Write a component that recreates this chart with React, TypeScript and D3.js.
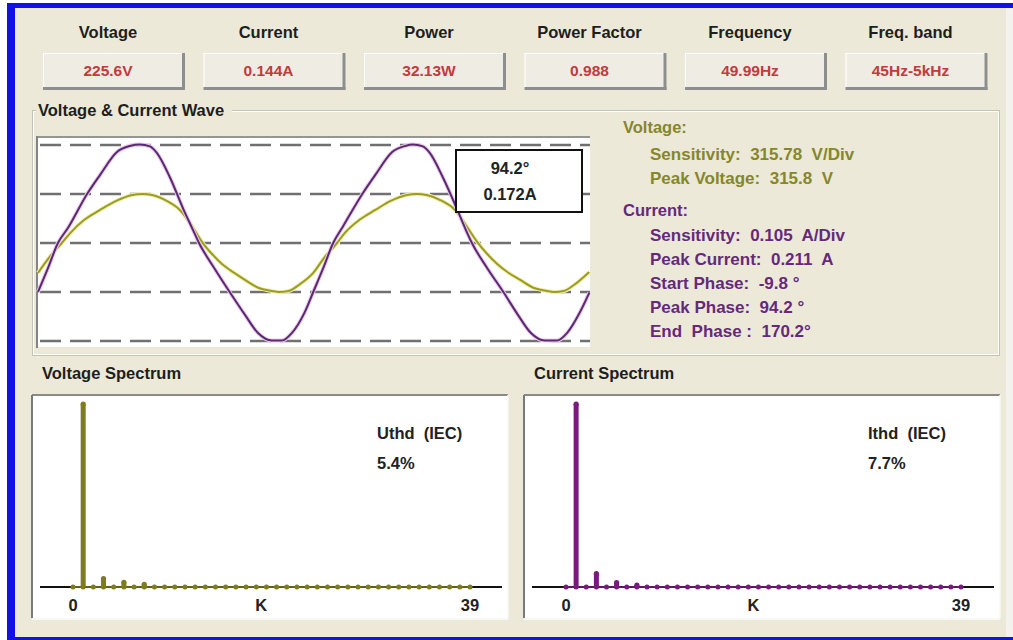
import React from 'react';
import * as d3 from 'd3';

// ---------- data ----------
const headerLabels = ['Voltage', 'Current', 'Power', 'Power Factor', 'Frequency', 'Freq. band'];
const headerValues = ['225.6V', '0.144A', '32.13W', '0.988', '49.99Hz', '45Hz-5kHz'];

// current waveform: [phase deg, amps]
const currentWave: [number, number][] = [
  [0, -0.105], [13, -0.054], [26, 0], [39, 0.032], [64, 0.105], [81, 0.146], [103, 0.195],
  [120, 0.208], [133, 0.211], [146, 0.207], [155, 0.193], [172, 0.141], [190, 0.071],
  [201, 0.032], [210, 0], [230, -0.054], [250, -0.105], [270, -0.154], [287, -0.193],
  [305, -0.209], [318, -0.209], [331, -0.193], [348, -0.148], [359, -0.105], [372, -0.054],
  [385, 0], [398, 0.036], [423, 0.105], [440, 0.146], [462, 0.195], [479, 0.208],
  [489, 0.211], [502, 0.207], [511, 0.193], [528, 0.141], [547, 0.071], [557, 0.032],
  [566, 0], [586, -0.054], [607, -0.105], [626, -0.154], [643, -0.193], [661, -0.209],
  [677, -0.209], [690, -0.193], [707, -0.148], [719, -0.107],
];

// voltage waveform: [phase deg, volts]
const voltageWave: [number, number][] = [
  [0, -193], [14, -97], [31, 0], [42, 64], [60, 148], [81, 213], [102, 271], [123, 309],
  [136, 316], [149, 309], [168, 271], [185, 213], [200, 116], [214, 6], [227, -71],
  [240, -135], [256, -193], [270, -238], [288, -290], [305, -309], [314, -316], [327, -309],
  [340, -271], [359, -193], [373, -97], [390, 0], [400, 64], [419, 148], [440, 213],
  [460, 271], [481, 309], [494, 316], [507, 309], [527, 271], [544, 213], [558, 116],
  [573, 6], [586, -71], [599, -135], [614, -193], [629, -238], [647, -290], [664, -309],
  [673, -316], [686, -309], [699, -271], [719, -187],
];

const voltSensitivity = 315.78; // V/Div
const currSensitivity = 0.105; // A/Div
const gridDivisions = [-2, -1, 0, 1, 2];

const markerLines = ['94.2°', '0.172A'];

const voltageInfoTitle = 'Voltage:';
const voltageInfo = ['Sensitivity:  315.78  V/Div', 'Peak Voltage:  315.8  V'];
const currentInfoTitle = 'Current:';
const currentInfo = [
  'Sensitivity:  0.105  A/Div',
  'Peak Current:  0.211  A',
  'Start Phase:  -9.8 °',
  'Peak Phase:  94.2 °',
  'End  Phase :  170.2°',
];

// harmonic spectra, % of fundamental, orders 0..39
const voltageSpectrum = [
  0, 100, 0, 4.6, 0, 2.6, 0, 1.4, 0, 0,
  0, 0, 0, 0, 0, 0, 0, 0, 0, 0,
  0, 0, 0, 0, 0, 0, 0, 0, 0, 0,
  0, 0, 0, 0, 0, 0, 0, 0, 0, 0,
];
const currentSpectrum = [
  0, 100, 0, 7.3, 0, 2.4, 0, 1.1, 0, 0,
  0, 0, 0, 0, 0, 0, 0, 0, 0, 0,
  0, 0, 0, 0, 0, 0, 0, 0, 0, 0,
  0, 0, 0, 0, 0, 0, 0, 0, 0, 0,
];
const spectrumTicks: [number, string][] = [[0, '0'], [18.5, 'K'], [39, '39']];
const spectrumTitles = ['Voltage Spectrum', 'Current Spectrum'];
const thdLabels = ['Uthd  (IEC)', 'Ithd  (IEC)'];
const thdValues = ['5.4%', '7.7%'];

// ---------- style ----------
const FONT = '"Liberation Sans", Arial, sans-serif';
const FS = 16.5;
const BG = '#ECE9D8';
const RED = '#C23A3C';
const OLIVE = '#86862A';
const PURPLE = '#66297A';
const WAVE_V = '#9C9C24';
const WAVE_I = '#5A2A6E';
const BAR_V = '#7D7D1E';
const BAR_I = '#7A1A7E';

function Spectrum({ x0, x1, title, values, color, thdLabel, thdValue, panelX, panelW }: any) {
  const xs = d3.scaleLinear().domain([0, 39]).range([x0, x1]);
  const ys = d3.scaleLinear().domain([0, 100]).range([587, 404]);
  return (
    <g>
      <text x={panelX + 10} y={373} dominantBaseline="central" fontFamily={FONT} fontWeight="bold" fontSize={FS} fill="#1E1E1E">{title}</text>
      <rect x={panelX} y={395} width={panelW} height={223} fill="#FFFFFF" />
      <line x1={panelX} y1={395} x2={panelX + panelW} y2={395} stroke="#8A8A8A" strokeWidth={2} />
      <line x1={panelX} y1={395} x2={panelX} y2={618} stroke="#7A7A7A" strokeWidth={2} />
      <line x1={panelX} y1={619} x2={panelX + panelW} y2={619} stroke="#F8F8F4" strokeWidth={2} />
      <line x1={panelX + panelW} y1={395} x2={panelX + panelW} y2={619} stroke="#F8F8F4" strokeWidth={1.5} />
      <line x1={panelX + 8} y1={ys(0)} x2={panelX + panelW - 6} y2={ys(0)} stroke="#111" strokeWidth={2} />
      <line x1={xs(0)} y1={ys(0)} x2={xs(39)} y2={ys(0)} stroke={color} strokeWidth={1.5} />
      {values.map((v: number, i: number) => (
        <g key={i}>
          {v > 0 && (
            <rect x={xs(i) - 2.5} y={ys(v)} width={5} height={ys(0) - ys(v)} fill={color} />
          )}
          {v > 0 && <circle cx={xs(i)} cy={ys(v)} r={2.6} fill={color} />}
          <circle cx={xs(i)} cy={ys(0)} r={2.5} fill={color} />
        </g>
      ))}
      {spectrumTicks.map(([k, lab]) => (
        <text key={lab} x={xs(k)} y={605} textAnchor="middle" dominantBaseline="central" fontFamily={FONT} fontWeight="bold" fontSize={FS} fill="#222">{lab}</text>
      ))}
      <text x={x1 - 93} y={433} dominantBaseline="central" fontFamily={FONT} fontWeight="bold" fontSize={FS} fill="#222" style={{ whiteSpace: 'pre' }}>{thdLabel}</text>
      <text x={x1 - 93} y={463} dominantBaseline="central" fontFamily={FONT} fontWeight="bold" fontSize={FS} fill="#222">{thdValue}</text>
    </g>
  );
}

export default function App() {
  // wave plot scales
  const xw = d3.scaleLinear().domain([0, 720]).range([38, 590]);
  const yDiv = d3.scaleLinear().domain([-2, 2]).range([341, 145]);
  const line = d3.line<[number, number]>().curve(d3.curveMonotoneX);
  const iPath = line(currentWave.map(([p, a]) => [xw(p), yDiv(a / currSensitivity)]) as [number, number][]) || '';
  const vPath = line(voltageWave.map(([p, v]) => [xw(p), yDiv(v / voltSensitivity)]) as [number, number][]) || '';

  const boxX0 = 43;
  const boxStep = 160.5;
  const boxW = 142;

  return (
    <svg width={1013} height={640} style={{ position: 'absolute', left: 0, top: 0 }} xmlns="http://www.w3.org/2000/svg">
      <rect x={0} y={0} width={1013} height={640} fill="#FFFFFF" />
      <rect x={15} y={8} width={991} height={629} fill={BG} />
      <rect x={1006} y={8} width={7} height={629} fill="#F3F2EC" />
      <rect x={7} y={3} width={1006} height={5} fill="#1212E6" />
      <rect x={7} y={3} width={8} height={637} fill="#1212E6" />
      <rect x={7} y={637} width={1006} height={3} fill="#1212E6" />

      {/* header */}
      {headerLabels.map((lab, i) => {
        const bx = boxX0 + i * boxStep;
        const cx = bx + boxW / 2 - 6;
        return (
          <g key={lab}>
            <text x={cx} y={32} textAnchor="middle" dominantBaseline="central" fontFamily={FONT} fontWeight="bold" fontSize={FS} fill="#1E1E1E">{lab}</text>
            <rect x={bx} y={53} width={boxW} height={36} fill="#EFEDE3" />
            <line x1={bx} y1={53.5} x2={bx + boxW} y2={53.5} stroke="#FFFFFF" strokeWidth={1} />
            <line x1={bx + 0.5} y1={53} x2={bx + 0.5} y2={89} stroke="#FFFFFF" strokeWidth={1} />
            <line x1={bx} y1={88.5} x2={bx + boxW} y2={88.5} stroke="#8E8E8E" strokeWidth={3} />
            <line x1={bx + boxW - 1.5} y1={53} x2={bx + boxW - 1.5} y2={90} stroke="#8E8E8E" strokeWidth={3} />
            <text x={cx} y={70} textAnchor="middle" dominantBaseline="central" fontFamily={FONT} fontWeight="bold" fontSize={15.5} fill={RED}>{headerValues[i]}</text>
          </g>
        );
      })}

      {/* wave group box */}
      <rect x={32.5} y={110.5} width={967} height={245} fill="none" stroke="#C6C3B3" strokeWidth={1} />
      <rect x={33.5} y={111.5} width={965} height={243} fill="none" stroke="#FFFFFF" strokeWidth={1} />
      <rect x={36} y={101} width={196} height={18} fill={BG} />
      <text x={38} y={110} dominantBaseline="central" fontFamily={FONT} fontWeight="bold" fontSize={FS} fill="#1E1E1E">Voltage &amp; Current Wave</text>

      {/* wave plot */}
      <rect x={38} y={137} width={552} height={210} fill="#FFFFFF" />
      <line x1={37} y1={137} x2={590} y2={137} stroke="#959595" strokeWidth={2} />
      <line x1={37} y1={136} x2={37} y2={348} stroke="#858585" strokeWidth={2} />
      {gridDivisions.map((d) => (
        <line key={d} x1={40} y1={yDiv(d)} x2={590} y2={yDiv(d)} stroke="#707070" strokeWidth={2.5} strokeDasharray="21,9" />
      ))}
      <path d={vPath} fill="none" stroke="#F0F0B0" strokeWidth={4} />
      <path d={vPath} fill="none" stroke={WAVE_V} strokeWidth={2} />
      <path d={iPath} fill="none" stroke="#EBC8EE" strokeWidth={4} />
      <path d={iPath} fill="none" stroke={WAVE_I} strokeWidth={2} />

      {/* marker box */}
      <rect x={456} y={150} width={126} height={62} fill="#FFFFFF" stroke="#111" strokeWidth={2} />
      {markerLines.map((t, i) => (
        <text key={t} x={510} y={168 + i * 26} textAnchor="middle" dominantBaseline="central" fontFamily={FONT} fontWeight="bold" fontSize={FS} fill="#222">{t}</text>
      ))}

      {/* info text */}
      <text x={623} y={127} dominantBaseline="central" fontFamily={FONT} fontWeight="bold" fontSize={FS} fill={OLIVE}>{voltageInfoTitle}</text>
      {voltageInfo.map((t, i) => (
        <text key={t} x={650} y={154 + i * 24} dominantBaseline="central" fontFamily={FONT} fontWeight="bold" fontSize={17} fill={OLIVE} style={{ whiteSpace: 'pre' }}>{t}</text>
      ))}
      <text x={623} y={210} dominantBaseline="central" fontFamily={FONT} fontWeight="bold" fontSize={FS} fill={PURPLE}>{currentInfoTitle}</text>
      {currentInfo.map((t, i) => (
        <text key={t} x={650} y={235 + i * 24} dominantBaseline="central" fontFamily={FONT} fontWeight="bold" fontSize={17} fill={PURPLE} style={{ whiteSpace: 'pre' }}>{t}</text>
      ))}

      {/* spectra */}
      <Spectrum x0={73} x1={470} title={spectrumTitles[0]} values={voltageSpectrum} color={BAR_V} thdLabel={thdLabels[0]} thdValue={thdValues[0]} panelX={32} panelW={476} />
      <Spectrum x0={566} x1={961} title={spectrumTitles[1]} values={currentSpectrum} color={BAR_I} thdLabel={thdLabels[1]} thdValue={thdValues[1]} panelX={524} panelW={476} />
    </svg>
  );
}
